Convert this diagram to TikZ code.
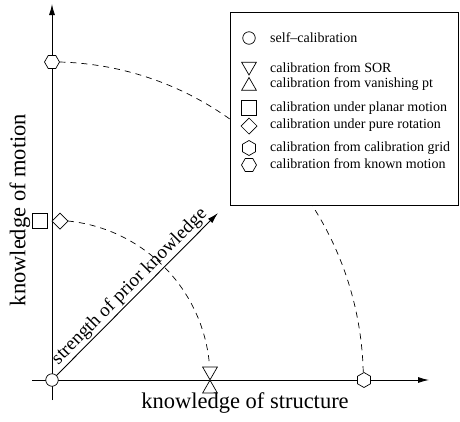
\documentclass[tikz,border=0pt]{standalone}
\usepackage{fontspec}
\setmainfont{Liberation Serif}
\usetikzlibrary{arrows.meta,shapes.geometric}
\begin{document}
\begin{tikzpicture}[x=1pt,y=-1pt,
  axis/.style={line width=0.9pt,-{Latex[length=11pt,width=6pt]}},
  mk/.style={draw,line width=0.7pt,fill=white,inner sep=0pt,outer sep=0pt},
  circ/.style={mk,circle,minimum size=12.5pt},
  tridown/.style={mk,regular polygon,regular polygon sides=3,shape border rotate=180,minimum size=17pt},
  triup/.style={mk,regular polygon,regular polygon sides=3,minimum size=17pt},
  sq/.style={mk,rectangle,minimum size=15.5pt},
  dia/.style={mk,diamond,minimum size=16pt},
  hexv/.style={mk,regular polygon,regular polygon sides=6,shape border rotate=30,minimum size=15pt},
  hexh/.style={mk,regular polygon,regular polygon sides=6,minimum size=15pt},
  arcd/.style={line width=0.7pt,dash pattern=on 6pt off 5pt},
  big/.style={font=\fontsize{22.5}{24}\selectfont},
  diag/.style={font=\fontsize{19}{21}\selectfont},
  leg/.style={font=\fontsize{14}{16}\selectfont,anchor=west,inner sep=0pt}]
\useasboundingbox (0,0) rectangle (460,421);
% axes
\coordinate (xs) at (32,380);
\coordinate (xe) at (429,380);
\coordinate (ys) at (52,400);
\coordinate (ye) at (52,4);
\draw[axis] (xs) -- (xe);
\draw[axis] (ys) -- (ye);
% diagonal
\coordinate (de) at (218,213);
\node[circ] (o) at (52,380) {};
\draw[line width=0.9pt,-{Latex[length=11pt,width=6pt]}] (o) -- node[diag,sloped,above,pos=0.5,inner sep=1.5pt]{strength of prior knowledge} (de);
% markers
\node[sq] (sqm) at (40,221) {};
\node[dia] (dm) at (60,221) {};
\node[tridown] (td) at (210,371.3) {};
\node[triup] (tu) at (210,388.7) {};
\node[hexh] (hm) at (52,62) {};
\node[hexv] (hs) at (364,380) {};
% arcs
\draw[arcd] (dm.east) arc[start angle=-84.2, end angle=-5, radius=158];
\draw[arcd] (hm.east) arc[start angle=-88.5, end angle=-1.3, x radius=312, y radius=318];
% labels
\node[big,rotate=90] (ly) at (20,210) {knowledge of motion};
\node[big] (lx) at (245,403) {knowledge of structure};
% legend
\node[draw,line width=0.8pt,fill=white,minimum width=228pt,minimum height=193pt,anchor=north west,inner sep=0pt] (box) at (230,12) {};
\node[circ] (l1) at (249,38) {};
\node[leg] at (270,38) {self\textendash calibration};
\node[tridown] (l2) at (249,66.5) {};
\node[leg] at (270,68) {calibration from SOR};
\node[triup] (l3) at (249,86) {};
\node[leg] at (270,84) {calibration from vanishing pt};
\node[sq] (l4) at (249,108) {};
\node[leg] at (270,108) {calibration under planar motion};
\node[dia] (l5) at (249,126) {};
\node[leg] at (270,125) {calibration under pure rotation};
\node[hexv] (l6) at (249,148) {};
\node[leg] at (270,148) {calibration from calibration grid};
\node[hexh] (l7) at (249,165) {};
\node[leg] at (270,164) {calibration from known motion};
\end{tikzpicture}
\end{document}
